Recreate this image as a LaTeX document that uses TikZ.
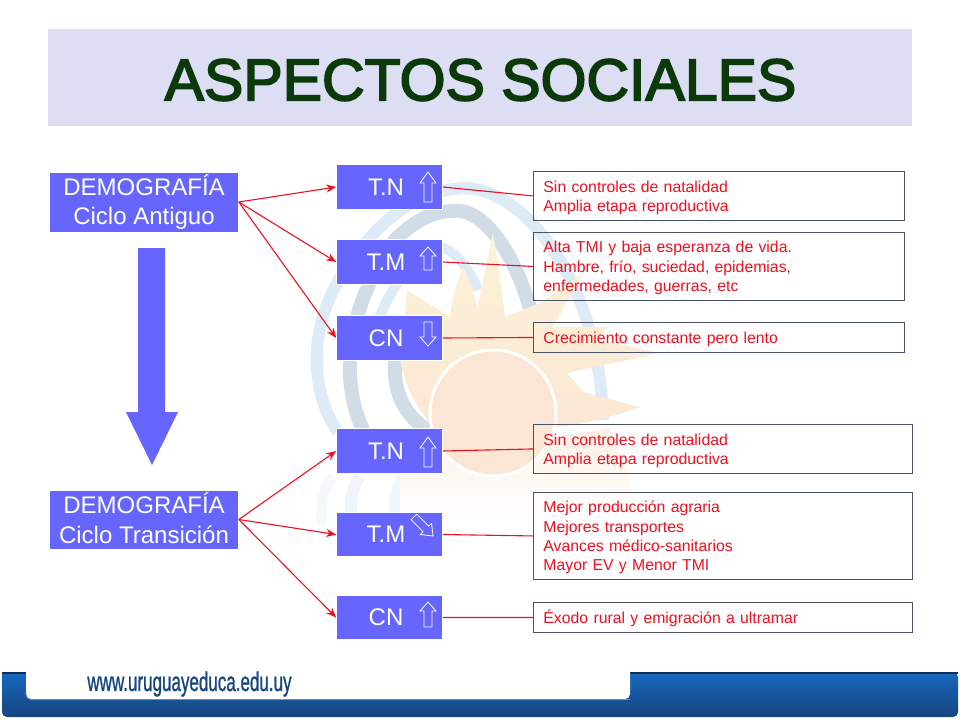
\documentclass[tikz,border=0pt]{standalone}
\usepackage{fontspec}
\setmainfont{Liberation Sans}
\newfontfamily\titlefont[FakeBold=3]{Liberation Sans}
\newfontfamily\urlfont[FakeBold=1.2]{Liberation Sans}
\usetikzlibrary{arrows.meta,fadings}
\definecolor{boxblue}{HTML}{6666FF}
\definecolor{band}{HTML}{DDDDF3}
\definecolor{titlegreen}{HTML}{0A3A0A}
\definecolor{edge}{HTML}{4A5268}
\definecolor{wred}{HTML}{EE1020}
\definecolor{footA}{HTML}{1668BE}
\definecolor{footB}{HTML}{17457F}
\definecolor{wblue}{HTML}{DCEBF5}
\definecolor{wgrey}{HTML}{D0DCE6}
\definecolor{wyellow}{HTML}{FCF3D6}
\definecolor{worange}{HTML}{FBE6D5}
\tikzset{
  x=1pt,y=-1pt,
  mainbox/.style={fill=boxblue,draw=white,line width=.6pt,text=white,inner sep=0pt,align=center,font=\fontsize{24}{29.5}\selectfont},
  smallbox/.style={mainbox,minimum width=106pt,minimum height=44.5pt,font=\fontsize{24}{26}\selectfont},
  notebox/.style={draw=edge,fill=white,fill opacity=0,text opacity=1,line width=.9pt,text=wred,inner xsep=10pt,inner ysep=0pt,align=left,anchor=north west,text width=#1-20pt,text height=14.5pt,font=\fontsize{15.8}{19.1}\selectfont},
  link/.style={draw=wred,line width=1.1pt},
  feed/.style={draw=wred,line width=1.1pt,-{Stealth[length=10pt,width=8pt]}},
  hollow/.style={draw=white,line width=.8pt},
  swirlA/.style={draw=#1,fill=none},
}
% #1 tip x, #2 tip y, #3 rotation, #4 length, #5 head length
\newcommand{\hollowarrow}[5]{%
  \draw[hollow,shift={(#1,#2)},rotate=#3] (0,0) -- (8,#5) -- (4,#5) -- (4,#4) -- (-4,#4) -- (-4,#5) -- (-8,#5) -- cycle;}
\begin{document}
\begin{tikzpicture}
\useasboundingbox (0,0) rectangle (960,720);
\fill[white] (0,0) rectangle (960,720);
% watermark: swirl
\draw[swirlA=wblue,line width=12pt] (338,432) .. controls (312,395) and (305,330) .. (345,270) .. controls (385,210) and (425,190) .. (465,188) .. controls (530,190) and (600,290) .. (603,420);
\draw[swirlA=wgrey,line width=14pt] (363,430) .. controls (340,380) and (345,310) .. (395,240) .. controls (420,215) and (440,210) .. (460,211) .. controls (490,214) and (520,265) .. (533,320);
\draw[swirlA=wblue,line width=10pt] (372,340) .. controls (385,290) and (415,255) .. (440,247) .. controls (455,250) and (470,270) .. (478,290);
\draw[swirlA=wgrey,line width=14pt] (428,430) .. controls (395,410) and (385,370) .. (405,320);
% faint reflection
\draw[swirlA=wblue!30!white,line width=10pt] (334,476) .. controls (322,490) and (320,505) .. (322,525);
\draw[swirlA=wgrey!30!white,line width=12pt] (360,476) .. controls (350,490) and (350,505) .. (352,525);
\draw[swirlA=wgrey!25!white,line width=12pt] (405,476) .. controls (395,490) and (393,505) .. (396,525);
% watermark: sun
\shade[top color=worange!60!white,bottom color=white] (400,442) .. controls (470,452) and (540,440) .. (610,428) -- (645,520) -- (400,520) -- cycle;
\shade[top color=wyellow,bottom color=worange]
  (407,290) -- (450,317) .. controls (452,295) and (458,280) .. (463,267)
  .. controls (470,280) and (475,295) .. (477,310) .. controls (482,285) and (488,255) .. (493,233)
  .. controls (497,260) and (502,290) .. (505,317) -- (540,303) -- (583,273) -- (553,327) -- (607,327) -- (597,340) -- (660,353)
  -- (567,373) -- (583,392) -- (640,407) .. controls (610,418) and (580,425) .. (557,427)
  .. controls (530,442) and (480,448) .. (430,423) .. controls (415,405) and (405,385) .. (400,360) -- cycle;
\draw[white,line width=3pt,fill=worange] (493,413) circle (63);
\fill[worange] (432,424) .. controls (470,448) and (530,442) .. (556,422) -- (540,400) -- (450,400) -- cycle;
% title
\fill[band] (48,29) rectangle (912,126);
\node[font=\fontsize{59}{70}\titlefont,text=titlegreen,inner sep=0pt] (title) at (480.5,80) {ASPECTOS SOCIALES};
% left
\node[mainbox,minimum width=189pt,minimum height=60pt] (d1) at (144,202) {DEMOGRAFÍA\\Ciclo Antiguo};
\node[mainbox,minimum width=189pt,minimum height=59pt] (d2) at (144,519.5) {\raisebox{1.5pt}[\height][\depth]{DEMOGRAFÍA}\\\raisebox{1.5pt}[\height][\depth]{Ciclo Transición}};
\fill[boxblue] (138,248) -- (165,248) -- (165,412) -- (178,412) -- (152,465) -- (126,412) -- (138,412) -- cycle;
% middle
\node[smallbox] (a1) at (389.5,187) {T.N\hspace*{7pt}};
\node[smallbox] (a2) at (389.5,262) {T.M\hspace*{7pt}};
\node[smallbox] (a3) at (389.5,338) {CN\hspace*{7pt}};
\node[smallbox] (b1) at (389.5,451) {T.N\hspace*{7pt}};
\node[smallbox] (b2) at (389.5,534.5) {T.M\hspace*{7pt}};
\node[smallbox] (b3) at (389.5,617.5) {CN\hspace*{7pt}};
% hollow arrows
\hollowarrow{428}{172}{0}{30}{11}
\hollowarrow{428}{247}{0}{23}{9}
\hollowarrow{428}{346}{180}{24}{9}
\hollowarrow{428}{437}{0}{30}{11}
\hollowarrow{433}{536}{-135}{27}{10}
\hollowarrow{428}{602}{0}{25}{9}
% notes
\node[notebox=370.5pt,minimum height=49pt] (n1) at (533,171) {Sin controles de natalidad\\Amplia etapa reproductiva};
\node[notebox=370.5pt,minimum height=68pt] (n2) at (533,232) {Alta TMI y baja esperanza de vida.\\Hambre, frío, suciedad, epidemias,\\enfermedades, guerras, etc};
\node[notebox=370.5pt,minimum height=30pt] (n3) at (533,322) {Crecimiento constante pero lento};
\node[notebox=378.5pt,minimum height=49pt] (n4) at (533,424) {Sin controles de natalidad\\Amplia etapa reproductiva};
\node[notebox=378.5pt,minimum height=87pt] (n5) at (533,492) {Mejor producción agraria\\Mejores transportes\\Avances médico-sanitarios\\Mayor EV y Menor TMI};
\node[notebox=378.5pt,minimum height=30pt] (n6) at (533,602) {Éxodo rural y emigración a ultramar};
% connectors
\foreach \t in {a1,a2,a3} \draw[feed] (d1.east) -- (\t.west);
\foreach \t in {b1,b2,b3} \draw[feed] (d2.east) -- (\t.west);
\draw[link] (a1.east) -- (n1.west);
\draw[link] (a2.east) -- (n2.west);
\draw[link] (a3.east) -- (n3.west);
\draw[link] (b1.east) -- (n4.west);
\draw[link] (b2.east) -- (n5.west);
\draw[link] (b3.east) -- (n6.west);
% footer
\shade[top color=footA,bottom color=footB,rounded corners=5pt] (2,672) -- (2,717) -- (958,717) -- (958,672) [sharp corners] -- cycle;
\fill[black!25!footB!85!black] (2,672) rectangle (958,674);
\fill[white,rounded corners=5pt] (26,670) -- (26,699) -- (630,699) [sharp corners] -- (630,670) -- cycle;
\draw[footA!70!white,line width=.8pt,rounded corners=5pt] (26,690) -- (26,699.5) -- (630,699.5);
\node[text=footB,font=\fontsize{27}{30}\urlfont,xscale=.63,inner sep=0pt] (url) at (189.5,684) {www.uruguayeduca.edu.uy};
\end{tikzpicture}
\end{document}
